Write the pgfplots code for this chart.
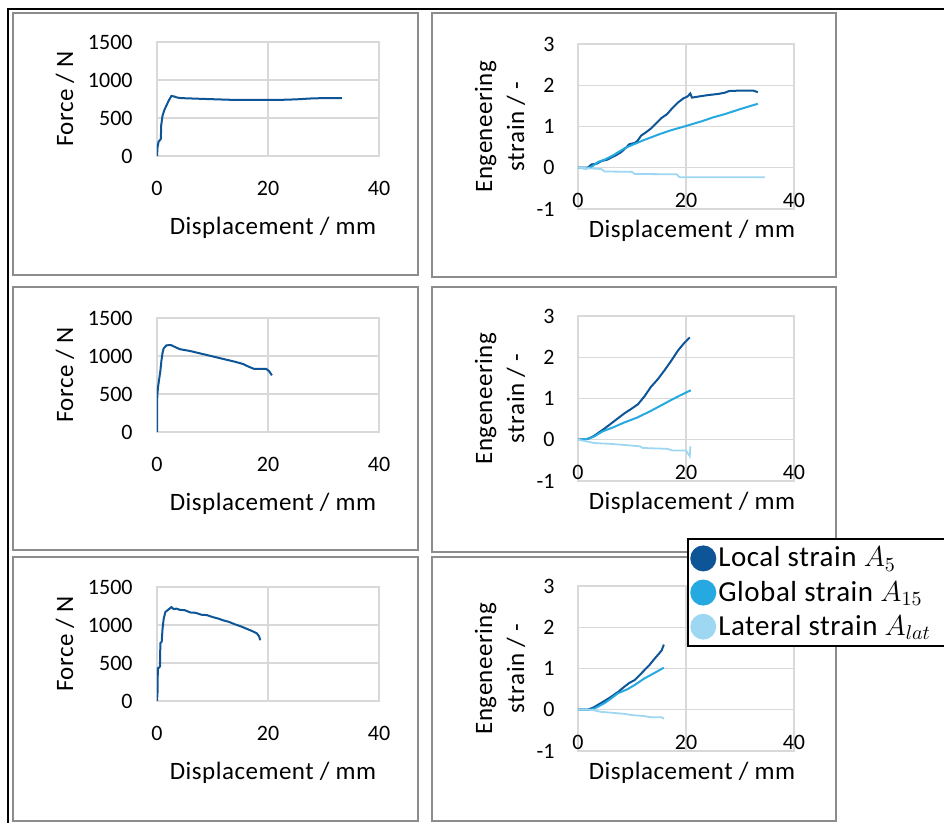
\documentclass[border=0pt]{standalone}
\usepackage{fontspec}
\setmainfont{Carlito}
\usepackage{pgfplots}
\pgfplotsset{compat=1.18}

\definecolor{locblue}{HTML}{0D5596}
\definecolor{globblue}{HTML}{25A9E0}
\definecolor{latblue}{HTML}{9DD7F2}
\definecolor{gridgray}{HTML}{D9D9D9}
\definecolor{framegray}{HTML}{8C8C8C}

\pgfplotsset{
  panel/.style={
    scale only axis, anchor=south west,
    xmin=0, xmax=40, xtick={0,20,40},
    grid=major, grid style={draw=gridgray, line width=0.7pt},
    axis line style={draw=gridgray, line width=0.7pt},
    major tick length=0pt, scaled ticks=false,
    /pgf/number format/assume math mode=true,
    /pgf/number format/1000 sep={},
    tick label style={font=\fontsize{11}{12}\selectfont},
    label style={font=\fontsize{12.5}{16}\selectfont\addfontfeature{LetterSpace=2}},
    xlabel={Displacement / mm},
  },
  force/.style={
    panel, width=111pt, height=57pt,
    ymin=0, ymax=1500, ytick={0,500,1000,1500},
    ylabel={Force / N},
    yticklabel style={anchor=east, inner sep=0pt, xshift=-12pt},
    xticklabel style={anchor=center, yshift=-16pt},
    ylabel style={at={(axis description cs:-0.414,0.5)}, anchor=center},
    xlabel style={at={(axis description cs:0.5,0)}, anchor=center, yshift=-36pt, xshift=2.5pt},
  },
  strain/.style={
    panel, width=108pt, height=82.5pt,
    ymin=-1, ymax=3, ytick={-1,0,1,2,3},
    ylabel={Engeneering\\strain / -},
    yticklabel style={anchor=east, inner sep=0pt, xshift=-11.5pt},
    xticklabel style={anchor=center, yshift=4.5pt},
    ylabel style={at={(axis description cs:-0.361,0.5)}, anchor=center, align=center},
    xlabel style={at={(axis description cs:0.5,0)}, anchor=center, yshift=-11pt, xshift=3pt},
  },
  loc/.style={color=locblue, line width=1pt},
  glob/.style={color=globblue, line width=1pt},
  lat/.style={color=latblue, line width=0.9pt},
}

\begin{document}
\begin{tikzpicture}
\useasboundingbox (0pt,0pt) rectangle (472pt,-411.5pt);

% panel frames
\draw[framegray, line width=1pt] (6.5pt,-6.5pt) rectangle (209pt,-137.5pt);
\draw[framegray, line width=1pt] (216pt,-6.5pt) rectangle (418pt,-138.5pt);
\draw[framegray, line width=1pt] (6.5pt,-143.5pt) rectangle (209pt,-275pt);
\draw[framegray, line width=1pt] (216pt,-143.5pt) rectangle (418pt,-276pt);
\draw[framegray, line width=1pt] (6.5pt,-278.5pt) rectangle (209pt,-410.5pt);
\draw[framegray, line width=1pt] (216pt,-278.5pt) rectangle (418pt,-410.5pt);
% outer frame
\draw[black, line width=1.3pt] (4pt,-413pt) -- (4pt,-4.5pt) -- (474pt,-4.5pt);

% ---- row 1
\begin{axis}[force, at={(78.5pt,-78pt)}]
\addplot[loc] coordinates {
 (0,0) (0.1,120) (0.3,190) (0.6,215) (0.7,230) (0.75,400) (1.0,530) (1.3,600)
 (1.7,665) (2.2,740) (2.6,790) (3.0,785) (3.6,770) (4.2,762) (8,752) (13,740)
 (18,738) (22,738) (25,745) (28,758) (31,763) (33.3,762)};
\end{axis}

\begin{axis}[strain, at={(289pt,-104.5pt)}]
\addplot[loc] coordinates {
 (0,0) (1.8,0) (2.5,0.08) (3.5,0.1) (4.3,0.16) (5.5,0.2) (6.2,0.25) (7,0.3)
 (8,0.38) (9,0.5) (9.5,0.57) (10.5,0.6) (11,0.65) (11.7,0.78) (12.5,0.85)
 (13.6,0.96) (14.5,1.08) (15.4,1.2) (16.5,1.3) (17.3,1.42) (18.5,1.58)
 (19.5,1.68) (20.3,1.73) (20.8,1.8) (21.1,1.7) (22,1.72) (24,1.76) (26,1.79)
 (27.2,1.82) (28,1.86) (30,1.87) (32.5,1.87) (33.3,1.83)};
\addplot[glob] coordinates {
 (0,0) (1.5,-0.02) (2.5,0.02) (3.7,0.14) (5,0.2) (6.5,0.3) (8.6,0.47) (10,0.55)
 (12,0.66) (14.8,0.8) (17,0.9) (20.2,1.02) (23,1.13) (25,1.22) (27.2,1.3)
 (30,1.42) (32,1.5) (33.3,1.55)};
\addplot[lat] coordinates {
 (0,0) (4.3,-0.03) (4.9,-0.09) (10,-0.1) (10.5,-0.15) (18.3,-0.16)
 (18.8,-0.23) (34.6,-0.23)};
\end{axis}

% ---- row 2
\begin{axis}[force, at={(78.5pt,-216pt)}]
\addplot[loc] coordinates {
 (0,0) (0.02,300) (0.05,480) (0.2,600) (0.4,700) (0.6,800) (0.8,940) (1.0,1040)
 (1.2,1100) (1.7,1140) (2.5,1145) (3.2,1120) (4.1,1090) (6,1065) (8,1030)
 (10,995) (12,960) (14,925) (15.5,895) (16.5,860) (17.5,830) (19.7,830)
 (20.2,800) (20.7,745)};
\end{axis}

\begin{axis}[strain, at={(289pt,-240.5pt)}]
\addplot[loc] coordinates {
 (0,0) (1.8,0.02) (2.8,0.08) (3.7,0.16) (5,0.28) (6.2,0.4) (7.5,0.53) (8.6,0.64)
 (10,0.76) (11.1,0.86) (12.3,1.05) (13.5,1.28) (14.8,1.47) (16,1.68)
 (17.3,1.92) (18.5,2.16) (19.7,2.35) (20.7,2.48)};
\addplot[glob] coordinates {
 (0,0) (1.8,0.02) (3,0.08) (4.5,0.2) (6.5,0.3) (8.6,0.42) (11,0.54) (13.5,0.7)
 (15.5,0.84) (17.2,0.96) (19,1.08) (20.9,1.2)};
\addplot[lat] coordinates {
 (0,0) (2,-0.05) (3,-0.08) (6,-0.1) (8,-0.12) (11.5,-0.16) (12,-0.2)
 (16.5,-0.22) (17.5,-0.26) (20,-0.26) (20.5,-0.36) (20.7,-0.4) (20.8,-0.16)};
\end{axis}

% ---- row 3
\begin{axis}[force, at={(78.5pt,-350.5pt)}]
\addplot[loc] coordinates {
 (0,0) (0.05,60) (0.1,120) (0.15,430) (0.4,440) (0.55,460) (0.6,760) (0.85,780)
 (1.0,950) (1.2,1080) (1.5,1170) (2.0,1200) (2.6,1235) (3.0,1210) (3.5,1215)
 (4.1,1200) (5,1195) (6,1165) (7,1160) (8,1135) (9,1130) (10,1105) (11,1085)
 (12,1060) (13,1040) (14,1010) (15,985) (16,955) (17,925) (18,890) (18.4,850)
 (18.6,800)};
\end{axis}

\begin{axis}[strain, at={(289pt,-375.5pt)},
  legend style={at={(axis description cs:0.505,1.293)}, anchor=north west,
    draw=black, line width=1.2pt, fill=white, inner xsep=1pt, inner ysep=3pt,
    font=\fontsize{14.5}{16}\selectfont\addfontfeature{LetterSpace=2},
    nodes={inner sep=1pt}, row sep=3.5pt, cells={anchor=west}},
  legend image code/.code={\fill[#1] (6pt,0pt) circle (6pt);}]
\addplot[loc] coordinates {
 (0,0) (1.8,0) (2.8,0.05) (3.7,0.12) (5,0.22) (6.2,0.32) (7.5,0.44) (8.6,0.56)
 (9.5,0.65) (10.5,0.72) (11.5,0.85) (12.3,0.96) (13.2,1.08) (14.2,1.24)
 (15,1.36) (15.5,1.44) (15.9,1.58)};
\addlegendentry{Local strain $A_{5}$}
\addplot[glob] coordinates {
 (0,0) (2.5,0) (3.5,0.06) (4.9,0.16) (6,0.26) (7.4,0.4) (8.5,0.46) (9.2,0.5)
 (10.5,0.6) (12.3,0.76) (14,0.88) (15.9,1.02)};
\addlegendentry{Global strain $A_{15}$}
\addplot[lat] coordinates {
 (0,0) (2.5,0) (4.2,-0.05) (6,-0.07) (8.6,-0.1) (10,-0.13) (12,-0.15)
 (13.5,-0.18) (15.5,-0.18) (15.9,-0.22)};
\addlegendentry{Lateral strain $A_{lat}$\hspace*{20pt}}
\end{axis}
\end{tikzpicture}
\end{document}
